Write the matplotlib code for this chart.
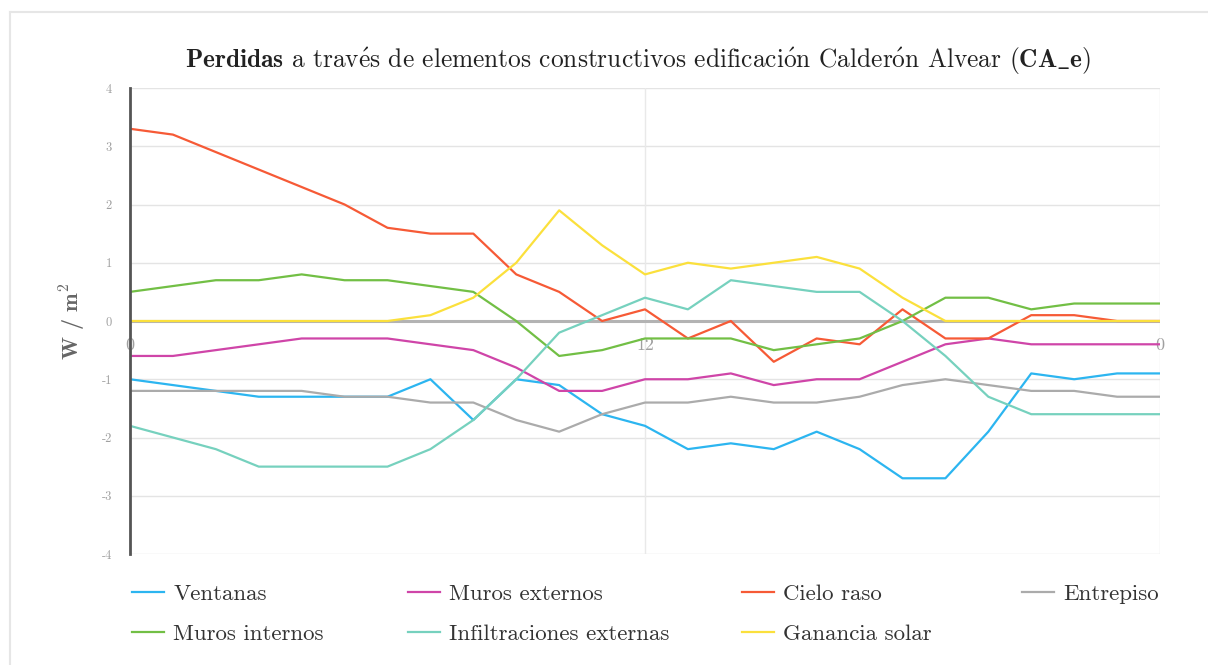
import matplotlib
matplotlib.use('Agg')
import matplotlib.pyplot as plt
from matplotlib.lines import Line2D

plt.rcParams['font.family'] = ['cmr10', 'DejaVu Serif']
plt.rcParams['mathtext.fontset'] = 'cm'
plt.rcParams['axes.unicode_minus'] = False

# ---- data ----
hours = list(range(25))
x_tick_pos = [0, 12, 24]
x_tick_labels = ["0", "12", "0"]
y_ticks = [-4, -3, -2, -1, 0, 1, 2, 3, 4]

ventanas = [-1.0, -1.1, -1.2, -1.3, -1.3, -1.3, -1.3, -1.0, -1.7, -1.0, -1.1, -1.6, -1.8,
            -2.2, -2.1, -2.2, -1.9, -2.2, -2.7, -2.7, -1.9, -0.9, -1.0, -0.9, -0.9]
muros_externos = [-0.6, -0.6, -0.5, -0.4, -0.3, -0.3, -0.3, -0.4, -0.5, -0.8, -1.2, -1.2, -1.0,
                  -1.0, -0.9, -1.1, -1.0, -1.0, -0.7, -0.4, -0.3, -0.4, -0.4, -0.4, -0.4]
cielo_raso = [3.3, 3.2, 2.9, 2.6, 2.3, 2.0, 1.6, 1.5, 1.5, 0.8, 0.5, 0.0, 0.2,
              -0.3, 0.0, -0.7, -0.3, -0.4, 0.2, -0.3, -0.3, 0.1, 0.1, 0.0, 0.0]
entrepiso = [-1.2, -1.2, -1.2, -1.2, -1.2, -1.3, -1.3, -1.4, -1.4, -1.7, -1.9, -1.6, -1.4,
             -1.4, -1.3, -1.4, -1.4, -1.3, -1.1, -1.0, -1.1, -1.2, -1.2, -1.3, -1.3]
muros_internos = [0.5, 0.6, 0.7, 0.7, 0.8, 0.7, 0.7, 0.6, 0.5, 0.0, -0.6, -0.5, -0.3,
                  -0.3, -0.3, -0.5, -0.4, -0.3, 0.0, 0.4, 0.4, 0.2, 0.3, 0.3, 0.3]
infiltraciones = [-1.8, -2.0, -2.2, -2.5, -2.5, -2.5, -2.5, -2.2, -1.7, -1.0, -0.2, 0.1, 0.4,
                  0.2, 0.7, 0.6, 0.5, 0.5, 0.0, -0.6, -1.3, -1.6, -1.6, -1.6, -1.6]
ganancia_solar = [0, 0, 0, 0, 0, 0, 0, 0.1, 0.4, 1.0, 1.9, 1.3, 0.8,
                  1.0, 0.9, 1.0, 1.1, 0.9, 0.4, 0.0, 0, 0, 0, 0, 0]

series = [
    ("Ventanas", ventanas, "#2cb5f0"),
    ("Muros externos", muros_externos, "#cf45a8"),
    ("Cielo raso", cielo_raso, "#f65a36"),
    ("Entrepiso", entrepiso, "#ababab"),
    ("Muros internos", muros_internos, "#72bf45"),
    ("Infiltraciones externas", infiltraciones, "#76d1be"),
    ("Ganancia solar", ganancia_solar, "#fbe03c"),
]

W, H = 1208, 665
fig = plt.figure(figsize=(W / 100, H / 100), dpi=100)
ax = fig.add_axes([130 / W, 1 - 554 / H, (1160 - 130) / W, (554 - 88) / H])

ax.set_xlim(0, 24)
ax.set_ylim(-4, 4)

# grid
for yv in y_ticks:
    ax.axhline(yv, color='#e4e4e4', lw=1.0, zorder=0)
for xv in [12, 24]:
    ax.axvline(xv, color='#e9e9e9', lw=1.0, zorder=0)
ax.axhline(0, color='#b3b3b3', lw=2.2, zorder=1)

handles = {}
for name, vals, col in series:
    ln, = ax.plot(hours, vals, color=col, lw=1.6, zorder=3, label=name)
    handles[name] = ln

for s in ['top', 'right']:
    ax.spines[s].set_visible(False)
ax.spines['bottom'].set_position(('data', 0))
ax.spines['bottom'].set_visible(False)
ax.spines['left'].set_color('#555555')
ax.spines['left'].set_linewidth(2.0)
ax.spines['left'].set_zorder(4)

ax.set_yticks(y_ticks)
ax.set_yticklabels([str(v) for v in y_ticks])
ax.set_xticks(x_tick_pos)
ax.set_xticklabels(x_tick_labels)
ax.tick_params(axis='y', length=0, pad=13, labelsize=9, labelcolor='#a0a0a0')
ax.tick_params(axis='x', length=0, pad=12, labelsize=13, labelcolor='#a0a0a0')

ax.set_ylabel(r"W / m$^{\mathbf{2}}$", fontsize=16, color='#666666',
              family='cmb10', labelpad=10)

title = (r"$\mathbf{Perdidas}$ a trav$\mathrm{\acute{e}}$s de elementos constructivos "
         r"edificaci$\mathrm{\acute{o}}$n Calder$\mathrm{\acute{o}}$n Alvear $\mathbf{(CA\_e)}$")
fig.text(638 / W, 1 - 61 / H, title,
         ha='center', va='center', fontsize=18.3, color='#222222')

# legend columns
cols = [
    (132, ["Ventanas", "Muros internos"]),
    (408, ["Muros externos", "Infiltraciones externas"]),
    (742, ["Cielo raso", "Ganancia solar"]),
    (1022, ["Entrepiso"]),
]
for xpix, names in cols:
    leg = fig.legend([handles[n] for n in names], names,
                     loc='upper left', bbox_to_anchor=(xpix / W, 1 - 584 / H),
                     frameon=False, fontsize=16.5, handlelength=1.4,
                     handletextpad=0.4, labelspacing=0.85,
                     borderpad=0, borderaxespad=0)
    for t in leg.get_texts():
        t.set_color('#333333')

# figure border
fig.add_artist(Line2D([10 / W, 1], [1 - 12 / H, 1 - 12 / H], transform=fig.transFigure,
                      color='#e6e6e6', lw=1.5))
fig.add_artist(Line2D([10 / W, 10 / W], [0, 1 - 12 / H], transform=fig.transFigure,
                      color='#e6e6e6', lw=1.5))

fig.savefig('out.png', dpi=100)
